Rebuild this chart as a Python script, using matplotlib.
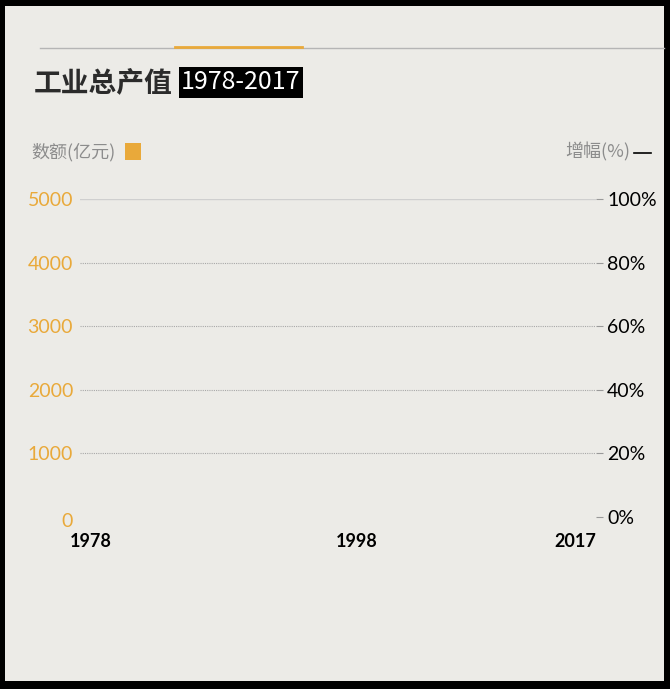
import matplotlib
matplotlib.use("Agg")
import matplotlib.pyplot as plt
import matplotlib.transforms as mtransforms
from matplotlib.patches import Rectangle
from matplotlib.lines import Line2D

# ---- data (the reference frame shows no bars/line yet) ----
years = []            # categories drawn so far
values = []           # 数额(亿元)
growth = []           # 增幅(%)
x_tick_years = [1978, 1998, 2017]
x_tick_labels = ["1978", "1998", "2017"]
left_ticks = [0, 1000, 2000, 3000, 4000, 5000]
left_labels = ["0", "1000", "2000", "3000", "4000", "5000"]
right_ticks = [0, 20, 40, 60, 80, 100]
right_labels = ["0%", "20%", "40%", "60%", "80%", "100%"]

W, H = 670, 689
BG = "#ECEBE7"
ORANGE = "#E9A93A"
CJK = ["Noto Sans CJK SC", "DejaVu Sans"]
NUM = ["Lato", "DejaVu Sans"]

fig = plt.figure(figsize=(W / 100, H / 100), dpi=100)
fig.patch.set_facecolor("black")

def fx(px):
    return px / W

def fy(py):
    return 1 - py / H

# inner background
fig.add_artist(Rectangle((fx(5), fy(681)), fx(664) - fx(5), fy(6) - fy(681),
                         transform=fig.transFigure, facecolor=BG, edgecolor="none", zorder=0))

# top rule
fig.add_artist(Line2D([fx(40), fx(664)], [fy(48), fy(48)], transform=fig.transFigure,
                      color="#B5B5B5", lw=1.0))
fig.add_artist(Line2D([fx(175), fx(302)], [fy(47), fy(47)], transform=fig.transFigure,
                      color=ORANGE, lw=2.0))

# title
fig.text(fx(34), fy(83), "工业总产值", family=CJK, fontsize=20, fontweight="bold",
         color="#2B2B2B", va="center", ha="left")
fig.text(fx(181), fy(82), "1978-2017", family=CJK, fontsize=18, color="white",
         va="center", ha="left",
         bbox=dict(boxstyle="square,pad=0.1", facecolor="black", edgecolor="none"))

# legends
fig.text(fx(31), fy(152), "数额(亿元)", family=CJK, fontsize=13, color="#8C8C8C",
         va="center", ha="left")
fig.add_artist(Rectangle((fx(125), fy(160)), fx(141) - fx(125), fy(143) - fy(160),
                         transform=fig.transFigure, facecolor=ORANGE, edgecolor="none"))
fig.text(fx(630), fy(152), "增幅(%)", family=CJK, fontsize=13, color="#8C8C8C",
         va="center", ha="right")
fig.add_artist(Line2D([fx(634), fx(651)], [fy(153), fy(153)], transform=fig.transFigure,
                      color="black", lw=1.2))

# axes
left_px, right_px, top_px, bot_px = 80, 596, 199, 517
ax = fig.add_axes([fx(left_px), fy(bot_px), fx(right_px) - fx(left_px), fy(top_px) - fy(bot_px)])
ax.set_facecolor("none")
ax.set_xlim(1977.5, 2017.5)
ax.set_ylim(0, 5000)
for s in ax.spines.values():
    s.set_visible(False)

ax.bar(years, values, color=ORANGE, width=0.7)

# gridlines
for v in left_ticks[1:]:
    if v == left_ticks[-1]:
        ax.axhline(v, color="#CFCFCF", lw=1.0, zorder=1)
    else:
        ax.axhline(v, color="#A8A8A8", lw=0.8, ls=(0, (1, 1)), zorder=1)

ax.set_yticks(left_ticks)
ax.set_yticklabels(left_labels, family=NUM, fontsize=14, color=ORANGE)
ax.tick_params(axis="y", length=0, pad=5)
ax.get_yticklabels()[0].set_transform(
    ax.get_yticklabels()[0].get_transform() + mtransforms.ScaledTranslation(0, -3 / 100, fig.dpi_scale_trans))

ax.set_xticks(x_tick_years)
ax.set_xticklabels(x_tick_labels, family=NUM, fontsize=13, fontweight="bold", color="black")
ax.tick_params(axis="x", length=0, pad=11.5)
offsets = [4.5, 12.5, -14.5]
for lab, off in zip(ax.get_xticklabels(), offsets):
    lab.set_transform(lab.get_transform() + mtransforms.ScaledTranslation(off / 100, 0, fig.dpi_scale_trans))

ax2 = ax.twinx()
ax2.set_ylim(0, 100)
for s in ax2.spines.values():
    s.set_visible(False)
ax2.plot(years, growth, color="black", lw=1.2)
ax2.set_yticks(right_ticks)
ax2.set_yticklabels(right_labels, family=NUM, fontsize=14, color="black")
ax2.tick_params(axis="y", length=5, width=0.8, color="#999999", pad=3, direction="out")

fig.savefig("out.png", dpi=100, facecolor=fig.get_facecolor())
